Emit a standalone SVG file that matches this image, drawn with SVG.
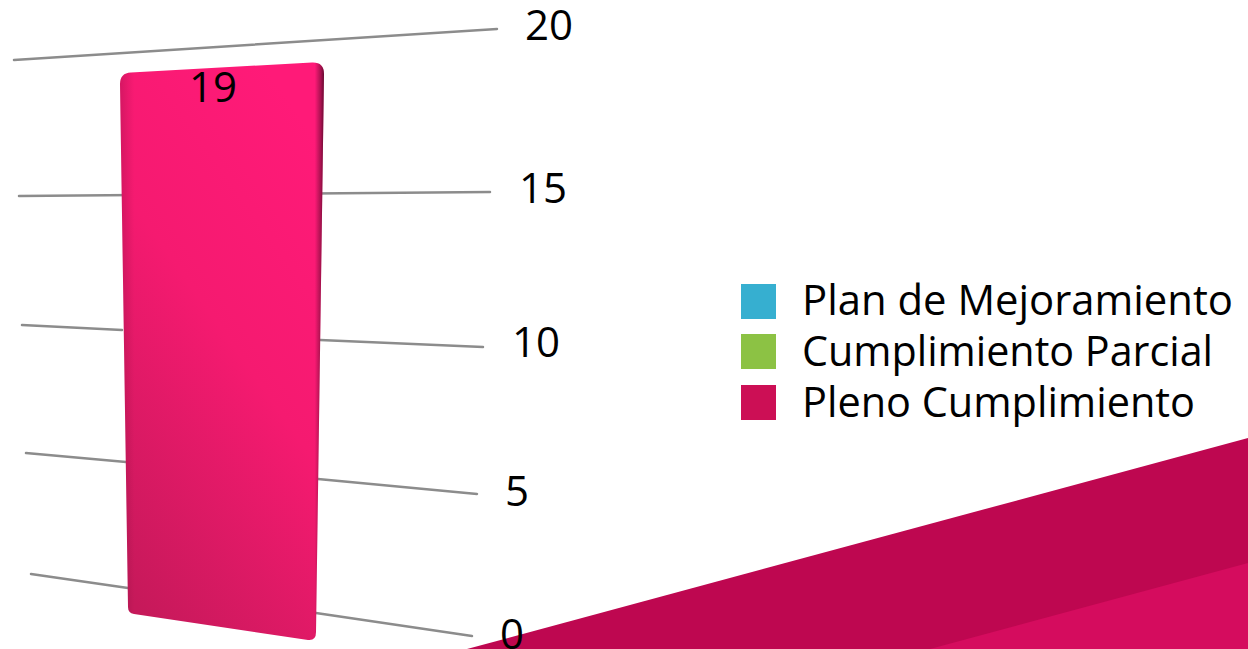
<svg xmlns="http://www.w3.org/2000/svg" width="1248" height="649" viewBox="0 0 1248 649">
<style>
.grid{stroke:#8c8c8c;stroke-width:2.5;fill:none;stroke-linecap:round}
.t{font-family:"Open Sans","Noto Sans","DejaVu Sans",sans-serif;font-size:42px;fill:#000}
</style>
<defs>
<linearGradient id="barFill" x1="0.7" y1="0" x2="0.2" y2="1">
<stop offset="0" stop-color="#ff1a78"/>
<stop offset="0.45" stop-color="#f51a70"/>
<stop offset="1" stop-color="#c6195a"/>
</linearGradient>
<linearGradient id="barEdge" x1="0" y1="0" x2="1" y2="0">
<stop offset="0" stop-color="#000" stop-opacity="0.14"/>
<stop offset="0.07" stop-color="#000" stop-opacity="0"/>
<stop offset="0.955" stop-color="#000" stop-opacity="0"/>
<stop offset="0.985" stop-color="#000" stop-opacity="0.35"/>
<stop offset="1" stop-color="#000" stop-opacity="0.6"/>
</linearGradient>
</defs>
<rect width="1248" height="649" fill="#fff"/>
<g id="decor">
<polygon points="467,649 1248,438 1248,649" fill="#be0750"/>
<polygon points="930,649 1248,563 1248,649" fill="#d50c5e"/>
</g>
<g id="gridlines">
<line class="grid" x1="14" y1="60" x2="497" y2="29"/>
<line class="grid" x1="19" y1="196" x2="490" y2="192"/>
<line class="grid" x1="22" y1="325" x2="122" y2="330"/>
<line class="grid" x1="320" y1="340" x2="483" y2="347"/>
<line class="grid" x1="26" y1="453" x2="126" y2="462"/>
<line class="grid" x1="318" y1="479" x2="477" y2="494"/>
<line class="grid" x1="31" y1="574" x2="128" y2="588"/>
<line class="grid" x1="316" y1="613" x2="472" y2="636"/>
</g>
<g id="axis-labels">
<text class="t" x="525" y="40">20</text>
<text class="t" x="519" y="203">15</text>
<text class="t" x="512" y="357">10</text>
<text class="t" x="505" y="506">5</text>
<text class="t" x="500" y="649">0</text>
</g>
<g id="bar">
<path d="M120,84 Q120,73 131,72.5 L312,62.5 Q324,62 324,74 L316,632 Q316,641 308,640 L134,614 Q128,613 128,607 Z" fill="url(#barFill)"/>
<path d="M120,84 Q120,73 131,72.5 L312,62.5 Q324,62 324,74 L316,632 Q316,641 308,640 L134,614 Q128,613 128,607 Z" fill="url(#barEdge)"/>
<text class="t" x="213" y="102" text-anchor="middle">19</text>
</g>
<g id="legend">
<g id="legend-plan">
<rect x="741" y="284" width="35" height="35" fill="#36afd0"/>
<text class="t" x="802" y="315" textLength="431" lengthAdjust="spacingAndGlyphs">Plan de Mejoramiento</text>
</g>
<g id="legend-parcial">
<rect x="741" y="334" width="35" height="35" fill="#8cc244"/>
<text class="t" x="802" y="366" textLength="411" lengthAdjust="spacingAndGlyphs">Cumplimiento Parcial</text>
</g>
<g id="legend-pleno">
<rect x="741" y="385" width="35" height="35" fill="#cc0f55"/>
<text class="t" x="802" y="417" textLength="393" lengthAdjust="spacingAndGlyphs">Pleno Cumplimiento</text>
</g>
</g>
</svg>
